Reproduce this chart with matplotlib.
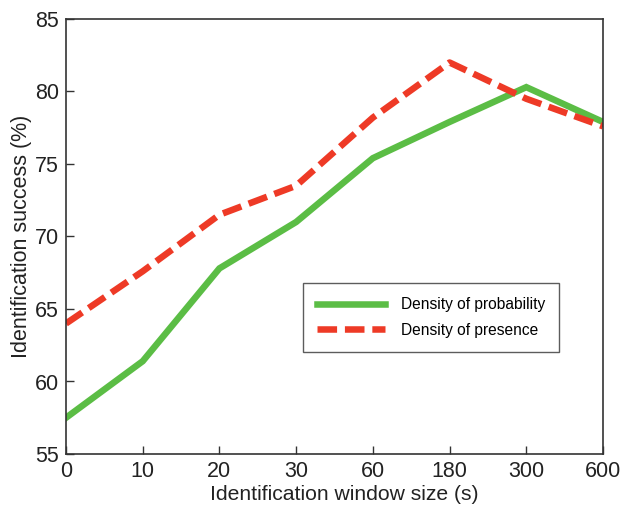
import matplotlib
matplotlib.use("Agg")
import matplotlib.pyplot as plt

plt.rcParams['font.family'] = ['Liberation Sans', 'DejaVu Sans']

window_labels = ['0', '10', '20', '30', '60', '180', '300', '600']
probability = [57.5, 61.4, 67.8, 71.0, 75.4, 77.9, 80.3, 77.9]
presence = [64.0, 67.6, 71.5, 73.5, 78.2, 82.0, 79.5, 77.6]

fig = plt.figure(figsize=(6.29, 5.08), dpi=100)
ax = fig.add_axes([66 / 629, 1 - 454 / 508, (603 - 66) / 629, (454 - 19) / 508])

x = range(len(window_labels))
ax.plot(x, probability, color='#5bbd45', lw=4.7, solid_joinstyle='miter',
        label='Density of probability')
ax.plot(x, presence, color='#ee3a26', lw=4.7, dashes=(3.0, 1.2),
        label='Density of presence')

ax.set_xlim(0, len(window_labels) - 1)
ax.set_ylim(55, 85)
ax.set_xticks(list(x))
ax.set_xticklabels(window_labels)
ax.set_yticks([55, 60, 65, 70, 75, 80, 85])
ax.tick_params(direction='in', length=6, width=1, labelsize=15.5, pad=5,
               color='#333333', labelcolor='#222222')
for s in ax.spines.values():
    s.set_color('#333333')
    s.set_linewidth(1.2)

ax.set_xlabel('Identification window size (s)', fontsize=15.2, color='#222222')
ax.xaxis.set_label_coords(0.518, -0.072)
ax.set_ylabel('Identification success (%)', fontsize=15.5, color='#222222', labelpad=2)

leg = ax.legend(loc='upper left', bbox_to_anchor=((303 - 66) / 537, 1 - (283 - 19) / 435),
                fontsize=11.2, frameon=True, fancybox=False, edgecolor='#333333',
                handlelength=4.4, handletextpad=1.0, borderpad=0.9, labelspacing=0.7,
                borderaxespad=0)
leg.get_frame().set_linewidth(1.0)

fig.savefig('out.png', dpi=100)
